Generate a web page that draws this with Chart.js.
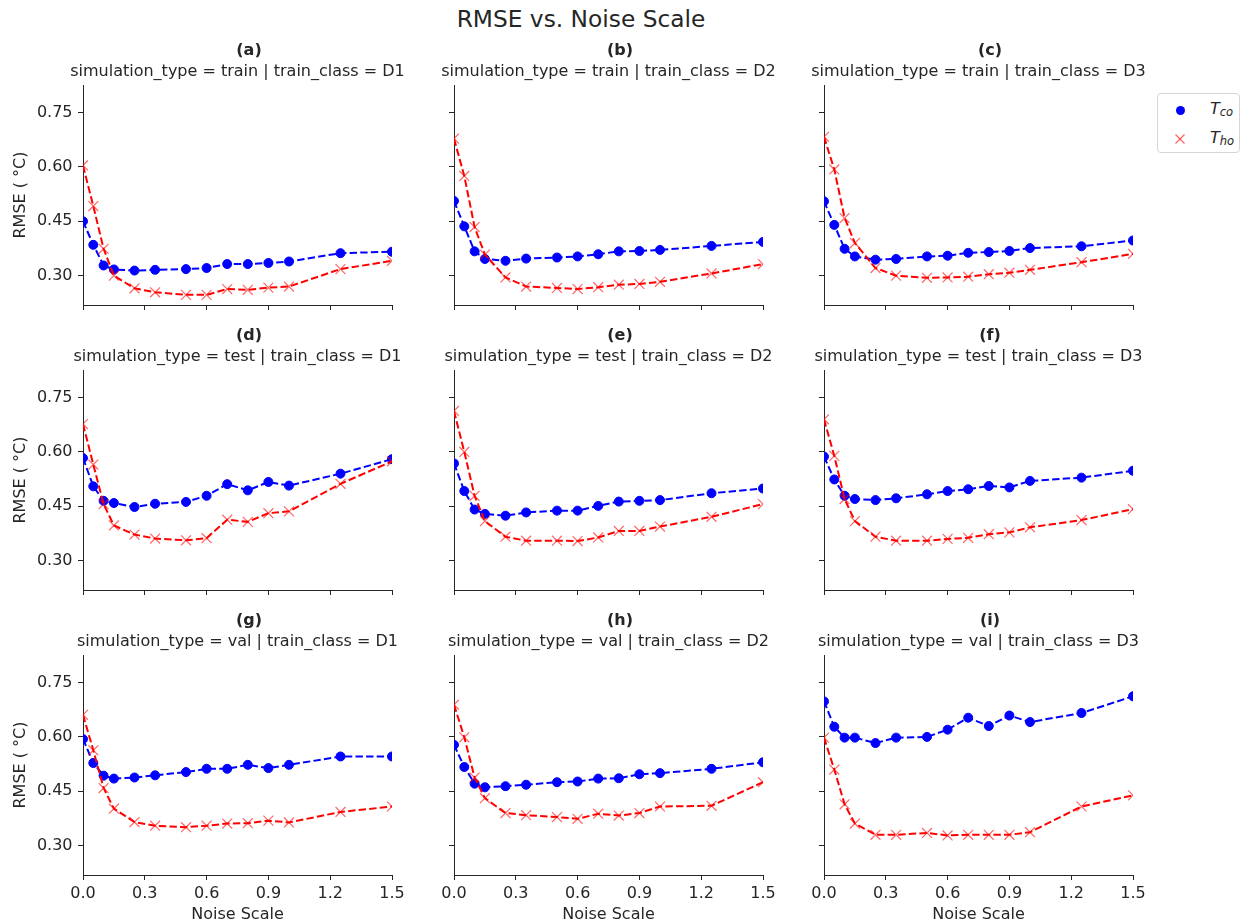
<!DOCTYPE html>
<html>
<head>
<meta charset="utf-8">
<script src="https://cdn.jsdelivr.net/npm/chart.js@4.4.1/dist/chart.umd.min.js"></script>
<style>
html,body{margin:0;padding:0;background:#fff;}
body{width:1245px;height:924px;position:relative;overflow:hidden;font-family:'DejaVu Sans',sans-serif;color:#262626;}
canvas.panel{position:absolute;}
#suptitle{position:absolute;left:331px;width:500px;top:4.6px;text-align:center;font-size:23.3px;line-height:28px;white-space:nowrap;}
#legendBox{position:absolute;left:1157px;top:93px;width:83px;height:60px;border:1px solid #d6d6d6;border-radius:4px;box-sizing:border-box;}
.lgDot{position:absolute;left:1175.5px;top:106.2px;width:9px;height:9px;border-radius:50%;background:#0000ff;}
.lgX{position:absolute;left:1175px;top:134.3px;width:10px;height:10px;}
.lgText{position:absolute;left:1210px;font-size:16px;line-height:20px;white-space:nowrap;}
.lgText i{font-style:italic;}
.lgText sub{font-size:11.5px;font-style:italic;vertical-align:-2px;line-height:0;}
</style>
</head>
<body>
<div id="suptitle">RMSE vs. Noise Scale</div>
<div id="legendBox"></div>
<div class="lgDot"></div>
<svg class="lgX" width="10" height="10" viewBox="0 0 10 10"><line x1="0.5" y1="0.5" x2="9.5" y2="9.5" stroke="rgba(255,0,0,0.6)" stroke-width="1.3"/><line x1="0.5" y1="9.5" x2="9.5" y2="0.5" stroke="rgba(255,0,0,0.6)" stroke-width="1.3"/></svg>
<div class="lgText" style="top:99.4px;"><i>T</i><sub>co</sub></div>
<div class="lgText" style="top:127.8px;"><i>T</i><sub>ho</sub></div>
<script>
// ---------------- data ----------------
const noiseScale = [0, 0.05, 0.1, 0.15, 0.25, 0.35, 0.5, 0.6, 0.7, 0.8, 0.9, 1.0, 1.25, 1.5];
const xTickValues = [0, 0.3, 0.6, 0.9, 1.2, 1.5];
const yTickValues = [0.30, 0.45, 0.60, 0.75];
const panelLetters = ['(a)', '(b)', '(c)', '(d)', '(e)', '(f)', '(g)', '(h)', '(i)'];
const simulationTypes = ['train', 'test', 'val'];
const trainClasses = ['D1', 'D2', 'D3'];

const tco_train_D1 = [0.450, 0.385, 0.328, 0.317, 0.314, 0.316, 0.318, 0.321, 0.332, 0.332, 0.335, 0.339, 0.362, 0.366];
const tho_train_D1 = [0.604, 0.492, 0.374, 0.300, 0.265, 0.254, 0.247, 0.247, 0.263, 0.261, 0.267, 0.270, 0.318, 0.341];
const tco_train_D2 = [0.506, 0.436, 0.367, 0.346, 0.341, 0.347, 0.350, 0.353, 0.359, 0.367, 0.368, 0.371, 0.382, 0.393];
const tho_train_D2 = [0.678, 0.575, 0.434, 0.358, 0.295, 0.270, 0.266, 0.263, 0.268, 0.275, 0.277, 0.283, 0.306, 0.332];
const tco_train_D3 = [0.505, 0.440, 0.374, 0.353, 0.344, 0.346, 0.353, 0.355, 0.363, 0.365, 0.368, 0.376, 0.381, 0.397];
const tho_train_D3 = [0.683, 0.593, 0.459, 0.390, 0.321, 0.300, 0.294, 0.295, 0.297, 0.304, 0.308, 0.316, 0.337, 0.360];
const tco_test_D1 = [0.583, 0.505, 0.465, 0.459, 0.448, 0.457, 0.462, 0.479, 0.511, 0.494, 0.517, 0.507, 0.540, 0.580];
const tho_test_D1 = [0.677, 0.565, 0.456, 0.397, 0.372, 0.361, 0.356, 0.362, 0.413, 0.407, 0.431, 0.436, 0.512, 0.574];
const tco_test_D2 = [0.568, 0.492, 0.441, 0.429, 0.424, 0.433, 0.438, 0.438, 0.451, 0.463, 0.465, 0.467, 0.486, 0.499];
const tho_test_D2 = [0.713, 0.600, 0.479, 0.409, 0.366, 0.355, 0.355, 0.354, 0.364, 0.382, 0.382, 0.394, 0.421, 0.456];
const tco_test_D3 = [0.587, 0.524, 0.479, 0.470, 0.467, 0.472, 0.483, 0.492, 0.497, 0.506, 0.502, 0.520, 0.529, 0.548];
const tho_test_D3 = [0.690, 0.589, 0.470, 0.409, 0.366, 0.355, 0.355, 0.360, 0.363, 0.373, 0.378, 0.392, 0.412, 0.442];
const tco_val_D1 = [0.594, 0.528, 0.493, 0.485, 0.488, 0.494, 0.503, 0.512, 0.512, 0.523, 0.514, 0.523, 0.546, 0.546];
const tho_val_D1 = [0.661, 0.563, 0.459, 0.402, 0.365, 0.355, 0.351, 0.355, 0.361, 0.362, 0.369, 0.364, 0.393, 0.408];
const tco_val_D2 = [0.578, 0.517, 0.471, 0.461, 0.464, 0.468, 0.475, 0.477, 0.485, 0.486, 0.497, 0.500, 0.512, 0.530];
const tho_val_D2 = [0.689, 0.599, 0.488, 0.431, 0.390, 0.384, 0.379, 0.374, 0.388, 0.383, 0.390, 0.408, 0.410, 0.475];
const tco_val_D3 = [0.698, 0.628, 0.598, 0.598, 0.583, 0.598, 0.600, 0.620, 0.653, 0.630, 0.659, 0.641, 0.666, 0.712];
const tho_val_D3 = [0.598, 0.510, 0.414, 0.361, 0.330, 0.330, 0.335, 0.328, 0.330, 0.330, 0.330, 0.337, 0.408, 0.439];

const tcoSeries = [
  [tco_train_D1, tco_train_D2, tco_train_D3],
  [tco_test_D1, tco_test_D2, tco_test_D3],
  [tco_val_D1, tco_val_D2, tco_val_D3]
];
const thoSeries = [
  [tho_train_D1, tho_train_D2, tho_train_D3],
  [tho_test_D1, tho_test_D2, tho_test_D3],
  [tho_val_D1, tho_val_D2, tho_val_D3]
];

// ---------------- layout / style ----------------
const FONT = "'DejaVu Sans', sans-serif";
const TXT = '#262626';
const yMin = 0.219, yMax = 0.826;
const plotLefts = [83, 454, 824];
const plotTops = [85, 370, 655];
const plotW = 309, plotH = 220;
const titleBlock = 44;
const SIDE = 83;

// Panel titles (bold letter + facet subtitle) centred on the plot area.
const panelTitlePlugin = {
  id: 'panelTitles',
  afterDraw(chart, args, opts) {
    const {ctx, chartArea} = chart;
    const cx = (chartArea.left + chartArea.right) / 2;
    ctx.save();
    ctx.fillStyle = TXT;
    ctx.textAlign = 'center';
    ctx.textBaseline = 'middle';
    ctx.font = 'bold 16px ' + FONT;
    ctx.fillText(opts.letter, cx + 11.5, chartArea.top - 34.4);
    ctx.font = '16px ' + FONT;
    ctx.fillText(opts.subtitle, cx, chartArea.top - 12.7);
    ctx.restore();
  }
};

function makePanel(r, c) {
  const isLeft = c === 0, isBottom = r === 2;
  const axisW = isLeft ? SIDE : 20;
  const B = isBottom ? 49 : 20;
  const cv = document.createElement('canvas');
  cv.className = 'panel';
  const w = SIDE + plotW + SIDE, h = titleBlock + plotH + B;
  cv.width = w; cv.height = h;
  cv.style.width = w + 'px'; cv.style.height = h + 'px';
  cv.style.left = (plotLefts[c] - SIDE) + 'px';
  cv.style.top = (plotTops[r] - titleBlock) + 'px';
  document.body.appendChild(cv);

  const tco = tcoSeries[r][c], tho = thoSeries[r][c];
  const font16 = {family: FONT, size: 16, lineHeight: 1.2};

  new Chart(cv, {
    type: 'line',
    plugins: [panelTitlePlugin],
    data: {
      datasets: [
        {
          label: 'T_co',
          data: noiseScale.map((x, i) => ({x: x, y: tco[i]})),
          borderColor: '#0000ff', backgroundColor: '#0000ff',
          borderWidth: 2, borderDash: [7.4, 3.2], tension: 0, fill: false,
          pointStyle: 'circle', pointRadius: 4.5, pointBorderWidth: 1,
          pointBackgroundColor: '#0000ff', pointBorderColor: '#0000ff',
          order: 1, clip: 0
        },
        {
          label: 'T_ho',
          data: noiseScale.map((x, i) => ({x: x, y: tho[i]})),
          borderColor: '#ff0000', backgroundColor: 'rgba(0,0,0,0)',
          borderWidth: 2, borderDash: [7.4, 3.2], tension: 0, fill: false,
          pointStyle: 'crossRot', pointRadius: 7, pointBorderWidth: 1.2,
          pointBackgroundColor: 'rgba(0,0,0,0)', pointBorderColor: 'rgba(255,0,0,0.6)',
          order: 0, clip: 0
        }
      ]
    },
    options: {
      responsive: false, animation: false, devicePixelRatio: 1,
      layout: {padding: {left: SIDE - axisW, top: titleBlock, bottom: 0, right: SIDE}},
      events: [],
      plugins: {
        legend: {display: false},
        tooltip: {enabled: false},
        title: {display: false},
        subtitle: {display: false},
        panelTitles: {
          letter: panelLetters[r * 3 + c],
          subtitle: 'simulation_type = ' + simulationTypes[r] + ' | train_class = ' + trainClasses[c]
        }
      },
      scales: {
        x: {
          type: 'linear', min: 0, max: 1.5,
          afterBuildTicks: s => { s.ticks = xTickValues.map(v => ({value: v})); },
          ticks: {
            callback: v => isBottom ? Number(v).toFixed(1) : '',
            font: font16, color: TXT, padding: 4, maxRotation: 0, autoSkip: false
          },
          grid: {display: true, drawOnChartArea: false, drawTicks: true, tickLength: 5, color: TXT, lineWidth: 1},
          border: {display: true, color: TXT, width: 1},
          title: {display: isBottom, text: 'Noise Scale', font: font16, color: TXT, padding: {top: 0, bottom: 0}},
          afterFit: s => { s.height = B; s.paddingLeft = 0; s.paddingRight = 0; }
        },
        y: {
          type: 'linear', min: yMin, max: yMax,
          afterBuildTicks: s => { s.ticks = yTickValues.map(v => ({value: v})); },
          ticks: {
            callback: v => isLeft ? Number(v).toFixed(2) : '',
            font: font16, color: TXT, padding: 5.5, autoSkip: false
          },
          grid: {display: true, drawOnChartArea: false, drawTicks: true, tickLength: 5, color: TXT, lineWidth: 1},
          border: {display: true, color: TXT, width: 1},
          title: {display: isLeft, text: 'RMSE ( °C)', font: font16, color: TXT, padding: {top: 11, bottom: 0}},
          afterFit: s => { s.width = axisW; s.paddingTop = 0; s.paddingBottom = 0; }
        }
      }
    }
  });
}

for (let r = 0; r < 3; r++) {
  for (let c = 0; c < 3; c++) {
    makePanel(r, c);
  }
}
</script>
</body>
</html>
